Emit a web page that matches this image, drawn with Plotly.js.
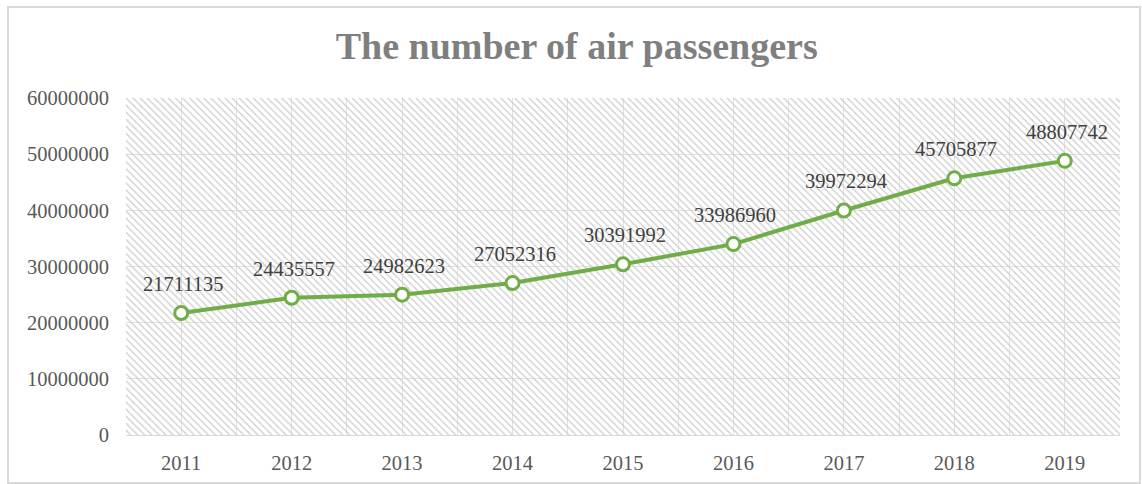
<!DOCTYPE html>
<html>
<head>
<meta charset="utf-8">
<script src="https://cdn.plot.ly/plotly-3.0.1.min.js"></script>
<style>html,body{margin:0;padding:0;background:#fff;}#chart{width:1142px;height:484px;}</style>
</head>
<body>
<div id="chart"></div>
<script>
const years = [2011, 2012, 2013, 2014, 2015, 2016, 2017, 2018, 2019];
const passengers = [21711135, 24435557, 24982623, 27052316, 30391992, 33986960, 39972294, 45705877, 48807742];
const yTicks = [0, 10000000, 20000000, 30000000, 40000000, 50000000, 60000000];
const titleText = 'The number of air passengers';

const green = '#70AD47';
const serif = '"Liberation Serif", "Times New Roman", serif';

// background hatch on the base (hidden) axes
const hatch = {
  x: [0, 1, 1, 0, 0], y: [0, 0, 1, 1, 0],
  xaxis: 'x', yaxis: 'y',
  type: 'scatter', mode: 'lines', fill: 'toself',
  line: {width: 0, color: 'rgba(0,0,0,0)'},
  fillcolor: 'rgba(0,0,0,0)',
  fillpattern: {shape: '\\', size: 5, solidity: 0.25, fgcolor: '#cccccc', bgcolor: 'rgba(0,0,0,0)'},
  hoverinfo: 'skip', showlegend: false
};

const line = {
  x: years, y: passengers,
  xaxis: 'x2', yaxis: 'y2',
  type: 'scatter', mode: 'lines+markers',
  line: {color: green, width: 4},
  marker: {symbol: 'circle', size: 13, color: '#ffffff', line: {color: green, width: 3}},
  showlegend: false, cliponaxis: false
};

const annotations = years.map((yr, i) => ({
  x: yr, y: passengers[i], xref: 'x2', yref: 'y2',
  text: String(passengers[i]), showarrow: false,
  yshift: 29, xshift: 2,
  font: {family: serif, size: 20.5, color: '#404040'}
}));

const layout = {
  width: 1142, height: 484,
  margin: {l: 126, r: 22, t: 98, b: 49},
  paper_bgcolor: '#ffffff', plot_bgcolor: '#ffffff',
  title: {text: '<b>' + titleText + '</b>', x: 0.505, xanchor: 'center', y: 0.905, yanchor: 'middle',
          font: {family: serif, size: 38, color: '#7f7f7f'}},
  xaxis: {range: [0, 1], visible: false, fixedrange: true},
  yaxis: {range: [0, 1], visible: false, fixedrange: true},
  xaxis2: {
    overlaying: 'x',
    range: [2010.5, 2019.5], tickvals: years, ticktext: years.map(String),
    showgrid: true, gridcolor: '#e2e2e2', gridwidth: 1,
    minor: {dtick: 0.5, tick0: 2010.5, showgrid: true, gridcolor: '#e2e2e2', gridwidth: 1},
    zeroline: false, showline: true, linecolor: '#d9d9d9', linewidth: 1,
    ticks: '', ticklabelstandoff: 9,
    tickfont: {family: serif, size: 20.5, color: '#595959'}, fixedrange: true
  },
  yaxis2: {
    overlaying: 'y',
    range: [0, 60000000], tickvals: yTicks, ticktext: yTicks.map(String),
    showgrid: true, gridcolor: '#e2e2e2', gridwidth: 1,
    zeroline: false, showline: false, ticks: '', ticklabelstandoff: 16,
    tickfont: {family: serif, size: 20.5, color: '#595959'}, fixedrange: true
  },
  annotations: annotations,
  shapes: [{
    type: 'rect', xref: 'paper', yref: 'paper',
    x0: (8 - 126) / 994, x1: (1140 - 126) / 994,
    y0: (435 - 483) / 337, y1: (435 - 7) / 337,
    line: {color: '#d9d9d9', width: 2}, fillcolor: 'rgba(0,0,0,0)', layer: 'below'
  }],
  showlegend: false
};

Plotly.newPlot('chart', [hatch, line], layout, {displayModeBar: false, staticPlot: true});
</script>
</body>
</html>
